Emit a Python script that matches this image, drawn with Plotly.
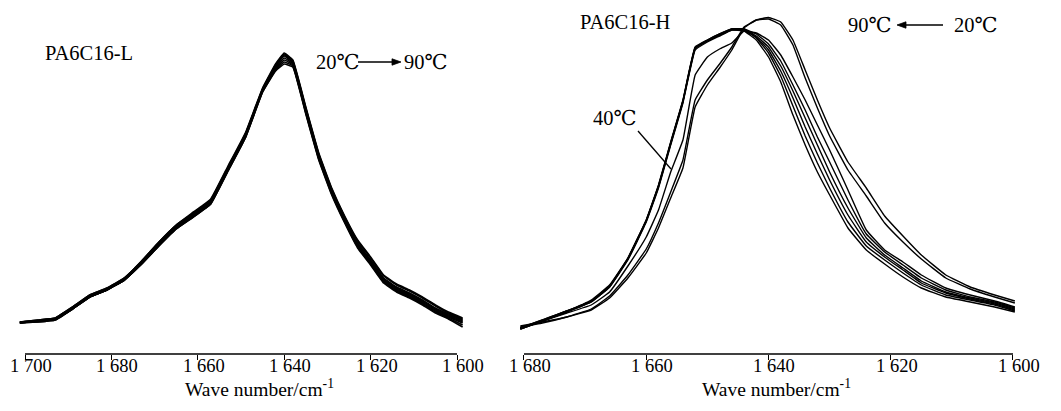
import plotly.graph_objects as go

# ---------------- data ----------------
temps = ["20℃", "30℃", "40℃", "50℃", "60℃", "70℃", "80℃", "90℃"]

# PA6C16-L : wave number grid (cm-1) and absorbance (a.u.)
wn_L = [1701.2, 1697, 1693, 1689, 1685, 1681, 1677, 1673, 1669, 1665, 1661, 1657, 1653, 1649,
        1645, 1642, 1640, 1638, 1635, 1632, 1629, 1626, 1623, 1620, 1617, 1614, 1611, 1608,
        1605, 1602, 1598.7]
L_20 = [32, 34, 36, 47, 59, 66, 76, 93, 112, 129, 142, 155, 188, 221, 266, 290, 301, 294, 247, 201, 166, 138, 114, 97, 79, 70, 64, 57, 49, 42, 36]
L_30 = [32, 34, 36, 47, 59, 66, 76, 93, 112, 129, 141, 154, 187, 220, 265, 289, 300, 293, 246, 200, 165, 137, 113, 96, 78, 69, 63, 56, 48, 41, 35]
L_40 = [32, 33, 35, 46, 58, 65, 75, 92, 111, 128, 140, 153, 186, 219, 265, 288, 299, 292, 245, 199, 164, 136, 111, 94, 76, 67, 61, 54, 46, 40, 34]
L_50 = [32, 33, 35, 46, 58, 65, 75, 92, 110, 127, 140, 153, 186, 219, 264, 287, 298, 291, 244, 198, 163, 135, 110, 93, 75, 66, 60, 53, 45, 39, 33]
L_60 = [31, 33, 35, 45, 57, 64, 74, 91, 110, 127, 139, 152, 185, 218, 264, 286, 296, 290, 243, 197, 162, 134, 109, 92, 74, 65, 59, 52, 44, 38, 32]
L_70 = [31, 33, 35, 45, 57, 64, 74, 90, 109, 126, 138, 151, 184, 217, 263, 285, 294, 289, 242, 196, 161, 133, 108, 91, 73, 64, 58, 51, 43, 37, 31]
L_80 = [31, 32, 34, 45, 57, 64, 74, 90, 108, 125, 137, 150, 183, 216, 262, 284, 292, 288, 241, 195, 160, 132, 107, 90, 72, 63, 57, 50, 42, 36, 29]
L_90 = [31, 32, 34, 45, 57, 64, 74, 90, 108, 125, 137, 150, 183, 216, 262, 283, 290, 287, 240, 194, 159, 131, 106, 89, 71, 62, 56, 49, 41, 35, 27]

# PA6C16-H
wn_H = [1680.6, 1677, 1673, 1669, 1666, 1663, 1660, 1658, 1656, 1654, 1652, 1650, 1648, 1646,
        1644, 1642, 1640, 1638, 1636, 1634, 1632, 1630, 1627, 1624, 1621, 1618, 1615, 1611,
        1607, 1603, 1599.7]
H_20 = [28, 32, 37, 44, 56, 76, 101, 126, 156, 186, 247, 269, 286, 304, 326, 334, 336.5, 332, 314, 284, 254, 226, 192, 166, 138, 118, 99, 79, 67, 59, 53]
H_30 = [27, 31, 37, 45, 58, 79, 105, 131, 162, 194, 254, 274, 290, 307, 327, 334, 335, 329, 309, 276, 246, 218, 184, 158, 131, 112, 95, 76, 65, 57, 51]
H_40 = [26, 33, 41, 49, 62, 88, 117, 144, 182, 214, 279, 297, 305, 311, 323, 321, 314, 299, 277, 254, 229, 204, 164, 124, 104, 92, 79, 66, 59, 53, 47]
H_50 = [26, 34, 43, 54, 69, 96, 134, 169, 212, 254, 307, 314, 320, 325, 325, 320, 310, 293, 269, 244, 217, 192, 154, 120, 102, 89, 76, 64, 57, 52, 46]
H_60 = [26, 34, 43, 53, 68, 96, 134, 168, 211, 253, 306, 314, 320, 325, 325, 318, 307, 288, 263, 236, 209, 182, 146, 116, 99, 86, 73, 62, 56, 51, 45]
H_70 = [25, 33, 43, 53, 68, 95, 133, 168, 211, 253, 306, 313, 319, 325, 324, 317, 304, 283, 256, 227, 200, 174, 139, 112, 97, 84, 71, 61, 55, 50, 44]
H_80 = [25, 33, 42, 52, 67, 95, 133, 167, 210, 252, 305, 313, 319, 324, 324, 316, 301, 278, 248, 218, 191, 166, 132, 108, 94, 81, 69, 59, 54, 49, 43]
H_90 = [25, 33, 42, 52, 67, 94, 132, 166, 209, 251, 304, 312, 318, 324, 323, 314, 297, 272, 239, 209, 182, 159, 126, 104, 90, 77, 66, 57, 52, 47, 42]

tick_L = [1700, 1680, 1660, 1640, 1620, 1600]
tick_L_text = ["1 700", "1 680", "1 660", "1 640", "1 620", "1 600"]
tick_H = [1680, 1660, 1640, 1620, 1600]
tick_H_text = ["1 680", "1 660", "1 640", "1 620", "1 600"]

series_L = [L_20, L_30, L_40, L_50, L_60, L_70, L_80, L_90]
series_H = [H_20, H_30, H_40, H_50, H_60, H_70, H_80, H_90]

# ---------------- layout geometry (reference pixels) ----------------
# The page body has an 8 px margin, so the figure is 1045 x 395 placed at (8, 8).
OFF = 8
W, H = 1061 - 2 * OFF, 411 - 2 * OFF
TOP, BOTTOM = 10, 354          # plot area top / axis line (reference px)
PH = BOTTOM - TOP

def px(x):
    return (x - OFF) / W

def py(y):
    return (BOTTOM - y) / PH

# left panel: 1700 at 25 px, 1600 at 457 px
sL = (457 - 25) / 100.0
rangeL = [1701.5, 1598.5]
domL = [px(25 - (rangeL[0] - 1700) * sL), px(457 + (1600 - rangeL[1]) * sL)]
# right panel: 1680 at 524 px, 1600 at 1013 px
sH = (1013 - 524) / 80.0
rangeH = [1681.0, 1599.2]
domH = [px(524 - (rangeH[0] - 1680) * sH), px(1013 + (1600 - rangeH[1]) * sH)]

FONT = "Liberation Serif, Times New Roman, DejaVu Serif, serif"

fig = go.Figure()
for name, ys in zip(temps, series_L):
    fig.add_trace(go.Scatter(x=wn_L, y=ys, mode="lines", name=name, xaxis="x", yaxis="y",
                             line=dict(color="black", width=1.6, shape="spline", smoothing=0.3),
                             showlegend=False))
for name, ys in zip(temps, series_H):
    fig.add_trace(go.Scatter(x=wn_H, y=ys, mode="lines", name=name, xaxis="x2", yaxis="y2",
                             line=dict(color="black", width=1.4, shape="spline", smoothing=0.3),
                             showlegend=False))

axis_common = dict(showgrid=False, zeroline=False, showline=False, ticks="outside",
                   ticklen=5, tickwidth=1.4, tickcolor="black", showticklabels=False,
                   automargin=False)

fig.update_layout(
    width=W, height=H,
    margin=dict(l=0, r=0, t=TOP - OFF, b=H - (BOTTOM - OFF), pad=0),
    paper_bgcolor="white", plot_bgcolor="white",
    xaxis=dict(domain=domL, range=rangeL, tickvals=tick_L, anchor="y", **axis_common),
    yaxis=dict(domain=[0, 1], range=[0, PH], visible=False, anchor="x"),
    xaxis2=dict(domain=domH, range=rangeH, tickvals=tick_H, anchor="y2", **axis_common),
    yaxis2=dict(domain=[0, 1], range=[0, PH], visible=False, anchor="x2"),
)

# axis baselines spanning exactly the labelled range
fig.add_shape(type="line", xref="x", yref="paper", x0=tick_L[0], x1=tick_L[-1], y0=0, y1=0,
              line=dict(color="black", width=1.6))
fig.add_shape(type="line", xref="x2", yref="paper", x0=tick_H[0], x1=tick_H[-1], y0=0, y1=0,
              line=dict(color="black", width=1.6))

# tick labels (placed tight under the ticks as in the reference)
for xr, vals, texts in (("x", tick_L, tick_L_text), ("x2", tick_H, tick_H_text)):
    for v, t in zip(vals, texts):
        fig.add_annotation(x=v, y=py(366), xref=xr, yref="paper", text=t, showarrow=False,
                           xanchor="center", yanchor="middle", xshift=6,
                           font=dict(family=FONT, size=18.5, color="black"))

def txt(x, y, s, size=20.5, xanchor="left"):
    fig.add_annotation(x=px(x), y=py(y), xref="paper", yref="paper", text=s, showarrow=False,
                       xanchor=xanchor, yanchor="middle",
                       font=dict(family=FONT, size=size, color="black"))

def arrow(x_tail, x_tip, y):
    # horizontal arrow drawn as a line plus a filled triangular head
    d = 1 if x_tip > x_tail else -1
    head = 9
    half = 3.2
    fig.add_shape(type="line", xref="paper", yref="paper",
                  x0=px(x_tail), y0=py(y), x1=px(x_tip - d * head), y1=py(y),
                  line=dict(color="black", width=1.4))
    path = "M {:.5f} {:.5f} L {:.5f} {:.5f} L {:.5f} {:.5f} Z".format(
        px(x_tip), py(y), px(x_tip - d * head), py(y - half), px(x_tip - d * head), py(y + half))
    fig.add_shape(type="path", xref="paper", yref="paper", path=path,
                  fillcolor="black", line=dict(color="black", width=0.8))

# axis titles
txt(259, 388, "Wave number/cm<sup>-1</sup>", size=19.5, xanchor="center")
txt(776, 388, "Wave number/cm<sup>-1</sup>", size=19.5, xanchor="center")

# left panel labels
txt(43, 53, "PA6C16-L")
txt(314, 62, "20℃")
arrow(358, 401, 62)
txt(402, 62, "90℃")

# right panel labels
txt(578, 22, "PA6C16-H")
txt(846, 25, "90℃")
arrow(943, 897, 25)
txt(952, 25, "20℃")
txt(591, 118, "40℃")
fig.add_shape(type="line", xref="paper", yref="paper", x0=px(638), y0=py(131), x1=px(671), y1=py(169),
              line=dict(color="black", width=1.3))

fig.write_html("out.html")
